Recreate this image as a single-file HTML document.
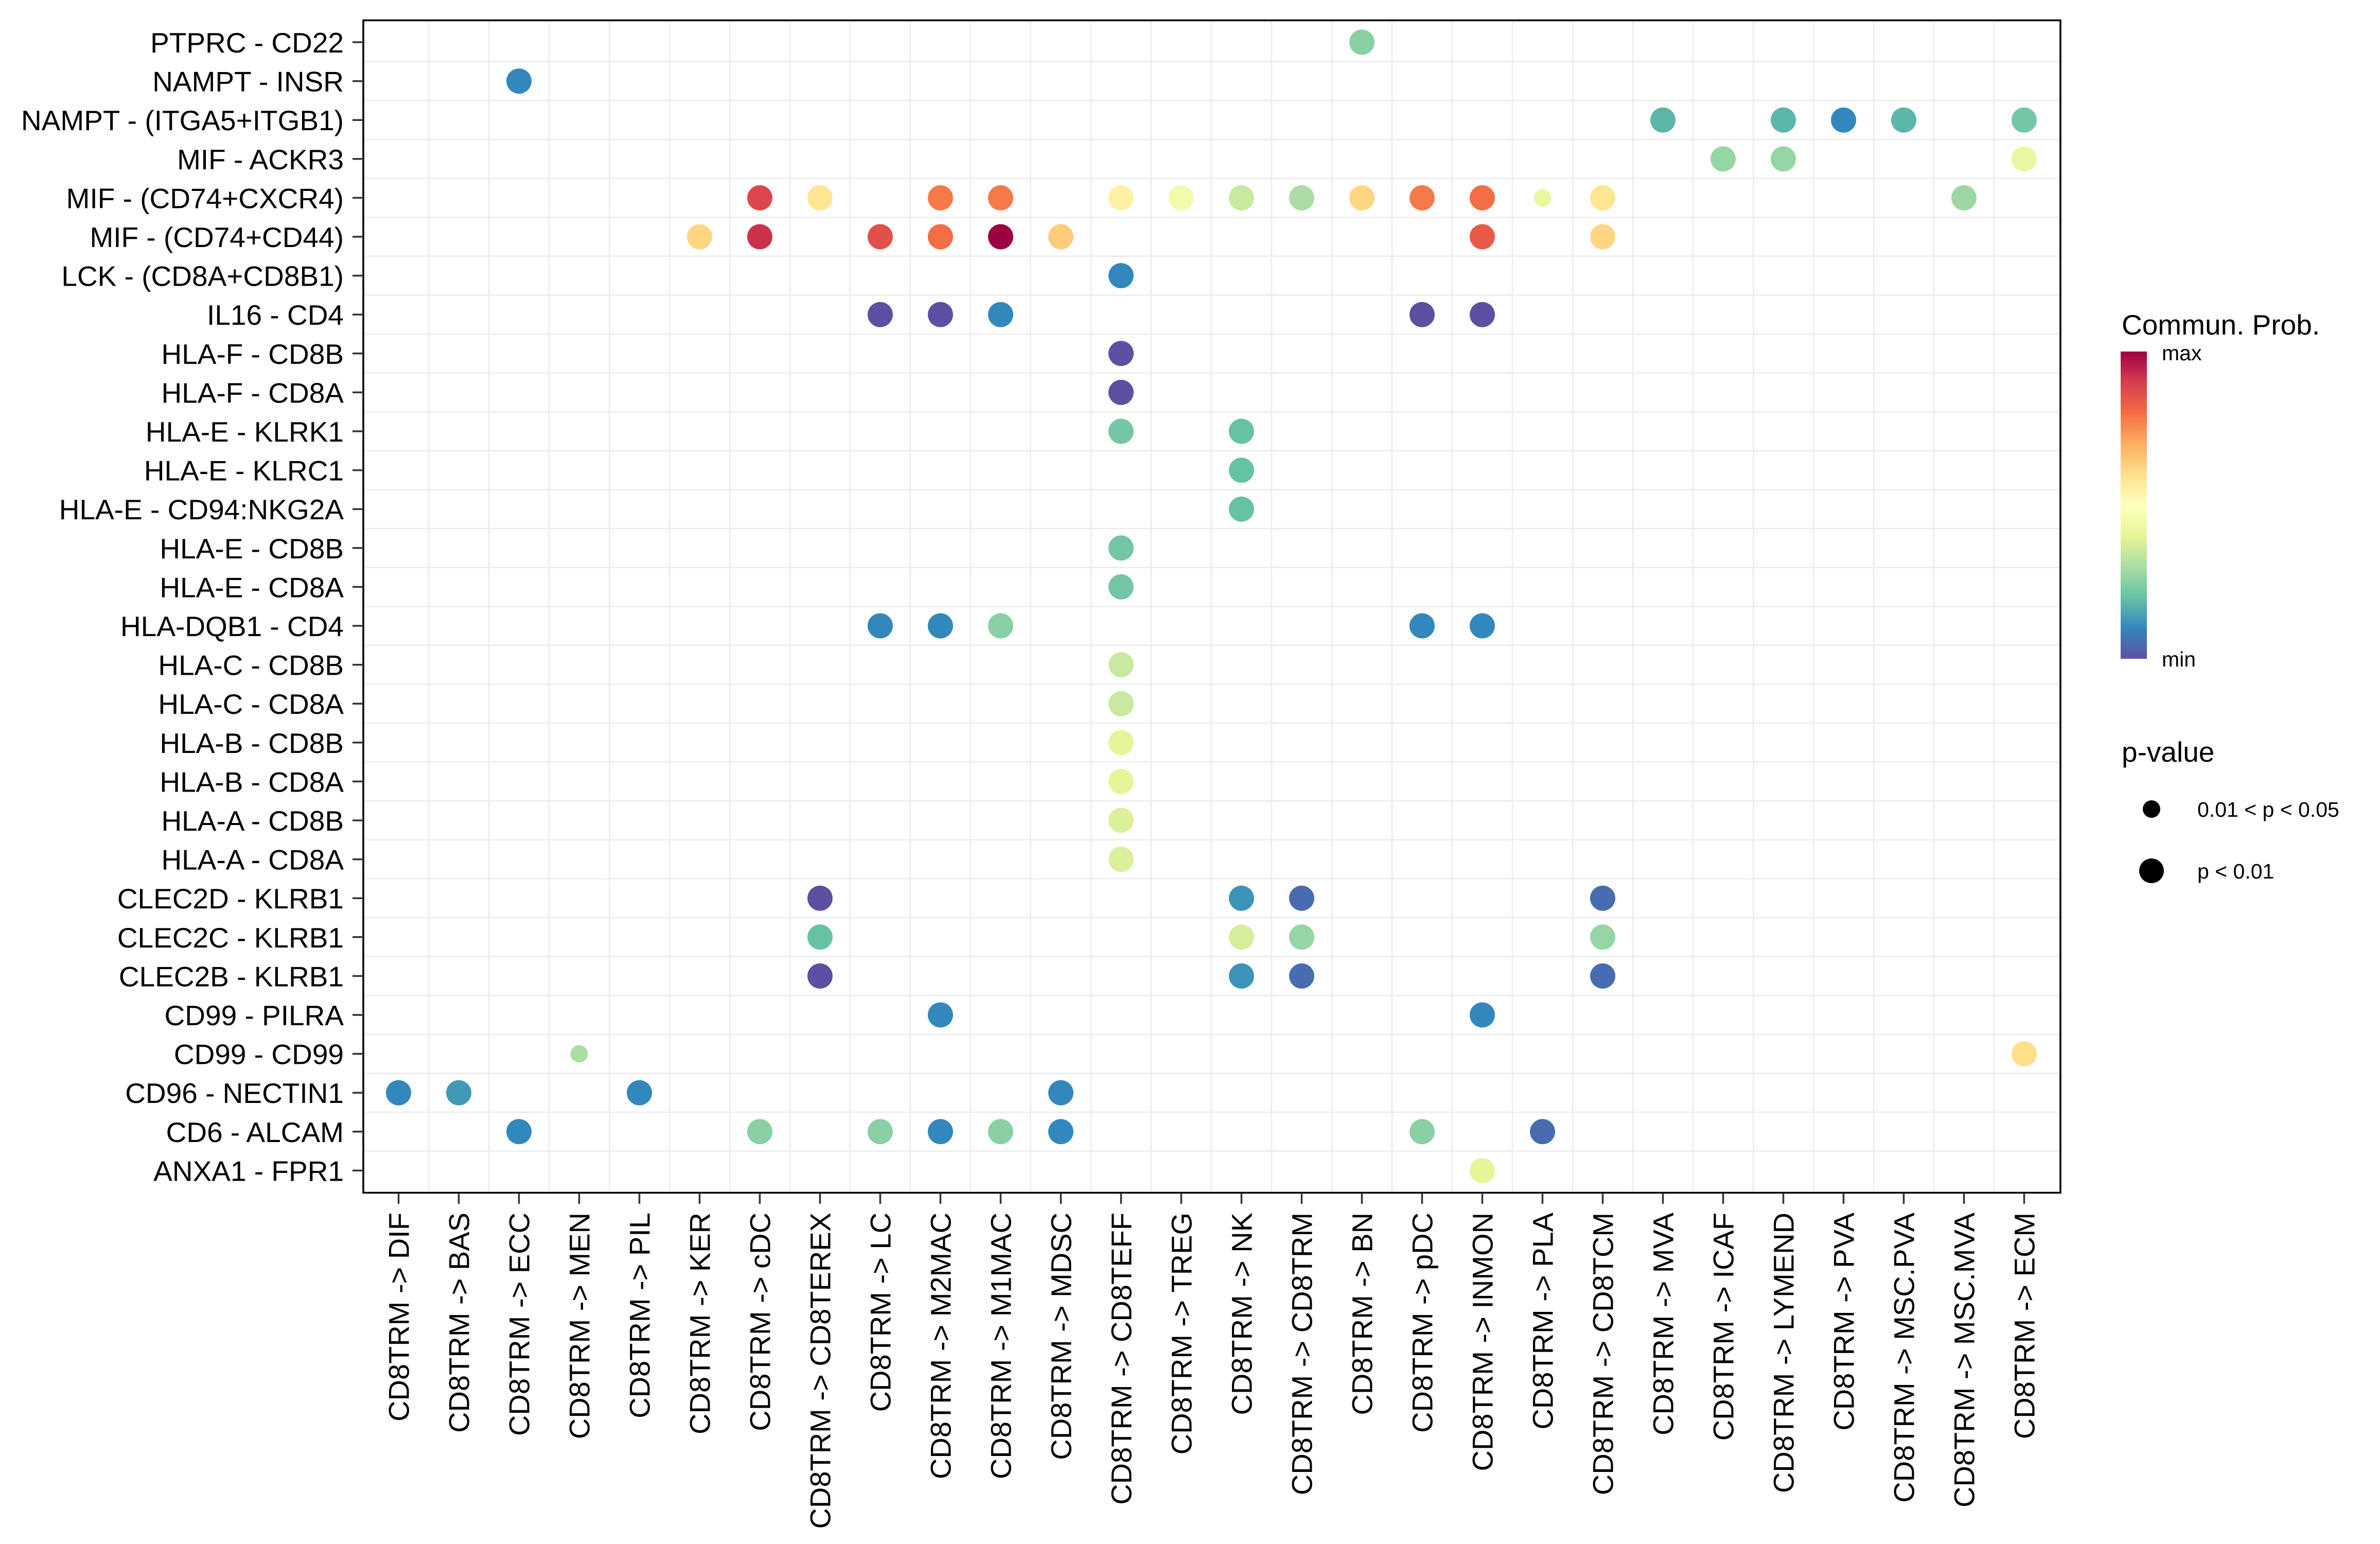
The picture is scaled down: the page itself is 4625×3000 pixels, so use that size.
<!DOCTYPE html>
<html><head><meta charset="utf-8"><style>html,body{margin:0;padding:0;background:#fff}svg{display:block}text{font-family:"Liberation Sans",sans-serif;fill:#000}</style></head>
<body>
<svg id="chart" xmlns="http://www.w3.org/2000/svg" width="4625" height="3000" viewBox="0 0 4625 3000">
<rect width="4625" height="3000" fill="#fff"/>
<g id="grid"></g>
<g id="dots"></g>
<rect x="706" y="39.5" width="3298" height="2278" fill="none" stroke="#000" stroke-width="3.5"/>
<g id="yaxis"></g>
<g id="xaxis"></g>
<g>
<defs><linearGradient id="cg" x1="0" y1="1" x2="0" y2="0">
<stop offset="0" stop-color="#5E4FA2"/><stop offset="0.1" stop-color="#3288BD"/><stop offset="0.2" stop-color="#66C2A5"/><stop offset="0.3" stop-color="#ABDDA4"/><stop offset="0.4" stop-color="#E6F598"/><stop offset="0.5" stop-color="#FFFFBF"/><stop offset="0.6" stop-color="#FEE08B"/><stop offset="0.7" stop-color="#FDAE61"/><stop offset="0.8" stop-color="#F46D43"/><stop offset="0.9" stop-color="#D53E4F"/><stop offset="1" stop-color="#9E0142"/></linearGradient></defs>
<text x="4123" y="650" font-size="55">Commun. Prob.</text>
<rect x="4121" y="683" width="51" height="597" fill="url(#cg)"/>
<text x="4201" y="700" font-size="41">max</text>
<text x="4201" y="1295" font-size="41">min</text>
</g>
<g>
<text x="4123" y="1480" font-size="55">p-value</text>
<circle cx="4181" cy="1572" r="17" fill="#000"/>
<text x="4270" y="1587" font-size="41">0.01 &lt; p &lt; 0.05</text>
<circle cx="4181" cy="1692" r="24" fill="#000"/>
<text x="4270" y="1707" font-size="41">p &lt; 0.01</text>
</g>
</svg>
<script>
const cols = ["DIF","BAS","ECC","MEN","PIL","KER","cDC","CD8TEREX","LC","M2MAC","M1MAC","MDSC","CD8TEFF","TREG","NK","CD8TRM","BN","pDC","INMON","PLA","CD8TCM","MVA","ICAF","LYMEND","PVA","MSC.PVA","MSC.MVA","ECM"];
const rows = ["PTPRC - CD22","NAMPT - INSR","NAMPT - (ITGA5+ITGB1)","MIF - ACKR3","MIF - (CD74+CXCR4)","MIF - (CD74+CD44)","LCK - (CD8A+CD8B1)","IL16 - CD4","HLA-F - CD8B","HLA-F - CD8A","HLA-E - KLRK1","HLA-E - KLRC1","HLA-E - CD94:NKG2A","HLA-E - CD8B","HLA-E - CD8A","HLA-DQB1 - CD4","HLA-C - CD8B","HLA-C - CD8A","HLA-B - CD8B","HLA-B - CD8A","HLA-A - CD8B","HLA-A - CD8A","CLEC2D - KLRB1","CLEC2C - KLRB1","CLEC2B - KLRB1","CD99 - PILRA","CD99 - CD99","CD96 - NECTIN1","CD6 - ALCAM","ANXA1 - FPR1"];
// point data: row index, column index, probability (0=min..1=max), small = 0.01<p<0.05
const ptRow = [0,1,2,2,2,2,2,3,3,3,4,4,4,4,4,4,4,4,4,4,4,4,4,4,5,5,5,5,5,5,5,5,6,7,7,7,7,7,8,9,10,10,11,12,13,14,15,15,15,15,15,16,17,18,19,20,21,22,22,22,22,23,23,23,23,24,24,24,24,25,25,26,26,27,27,27,27,28,28,28,28,28,28,28,28,29];
const ptCol = [16,2,21,23,24,25,27,22,23,27,6,7,9,10,12,13,14,15,16,17,18,19,20,26,5,6,8,9,10,11,18,20,12,8,9,10,17,18,12,12,12,14,14,14,12,12,8,9,10,17,18,12,12,12,12,12,12,7,14,15,20,7,14,15,20,7,14,15,20,9,18,3,27,0,1,4,11,2,6,8,9,10,11,17,19,18];
const ptVal = [0.25,0.1,0.18,0.18,0.1,0.18,0.22,0.27,0.27,0.42,0.88,0.58,0.78,0.78,0.55,0.45,0.35,0.3,0.62,0.78,0.8,0.42,0.58,0.28,0.62,0.92,0.86,0.8,1.0,0.64,0.84,0.62,0.1,0.0,0.0,0.1,0.0,0.0,0.0,0.0,0.22,0.2,0.2,0.2,0.22,0.22,0.1,0.1,0.25,0.1,0.1,0.35,0.35,0.4,0.4,0.38,0.38,0.0,0.12,0.05,0.05,0.2,0.37,0.27,0.27,0.0,0.12,0.05,0.05,0.1,0.1,0.3,0.6,0.1,0.13,0.1,0.1,0.1,0.25,0.25,0.1,0.25,0.1,0.25,0.05,0.4];
const ptSmall = [0,0,0,0,0,0,0,0,0,0,0,0,0,0,0,0,0,0,0,0,0,1,0,0,0,0,0,0,0,0,0,0,0,0,0,0,0,0,0,0,0,0,0,0,0,0,0,0,0,0,0,0,0,0,0,0,0,0,0,0,0,0,0,0,0,0,0,0,0,0,0,1,0,0,0,0,0,0,0,0,0,0,0,0,0,0];

const NS="http://www.w3.org/2000/svg";
const xPos = i => 774.5 + i*117;
const yPos = j => 82 + j*75.6;
const pal = ["#5E4FA2","#3288BD","#66C2A5","#ABDDA4","#E6F598","#FFFFBF","#FEE08B","#FDAE61","#F46D43","#D53E4F","#9E0142"];
function colorOf(v){const t=Math.max(0,Math.min(1,v))*10;const i=Math.min(9,Math.floor(t));const f=t-i;
 const a=pal[i],b=pal[i+1];const c=k=>Math.round(parseInt(a.substr(k,2),16)*(1-f)+parseInt(b.substr(k,2),16)*f);
 return "rgb("+c(1)+","+c(3)+","+c(5)+")";}
function mk(tag,attrs,parent){const e=document.createElementNS(NS,tag);for(const k in attrs)e.setAttribute(k,attrs[k]);parent.appendChild(e);return e;}
const grid=document.getElementById('grid'),dots=document.getElementById('dots'),ya=document.getElementById('yaxis'),xa=document.getElementById('xaxis');
for(let i=0;i<cols.length-1;i++){const l=mk('line',{x1:xPos(i)+58.5,x2:xPos(i)+58.5,y1:39.5,y2:2317,stroke:'#EBEBEB','stroke-width':2.5},grid);
 
 }
for(let j=0;j<rows.length-1;j++){const l=mk('line',{x1:706,x2:4004,y1:yPos(j)+37.8,y2:yPos(j)+37.8,stroke:'#EBEBEB','stroke-width':2.5},grid);
 
 }
rows.forEach((r,j)=>{const t=mk('text',{x:668,y:yPos(j)+20,'font-size':55,'text-anchor':'end'},ya);t.textContent=r;
 
 
 const tk=mk('line',{x1:685,x2:706,y1:yPos(j),y2:yPos(j),stroke:'#333','stroke-width':3.5},ya);
 
 });
cols.forEach((c,i)=>{const x=xPos(i)+20,y=2356;const t=mk('text',{x:x,y:y,'font-size':56,'text-anchor':'end',transform:'rotate(-90 '+x+' '+y+')'},xa);t.textContent="CD8TRM -> "+c;
 
 
 const tk=mk('line',{x1:xPos(i),x2:xPos(i),y1:2318,y2:2339,stroke:'#333','stroke-width':3.5},xa);
 
 });
for(let k=0;k<ptRow.length;k++){const c=mk('circle',{cx:xPos(ptCol[k]),cy:yPos(ptRow[k]),r:ptSmall[k]?17:24.5,fill:colorOf(ptVal[k])},dots);
 
 }
</script>
</body></html>
